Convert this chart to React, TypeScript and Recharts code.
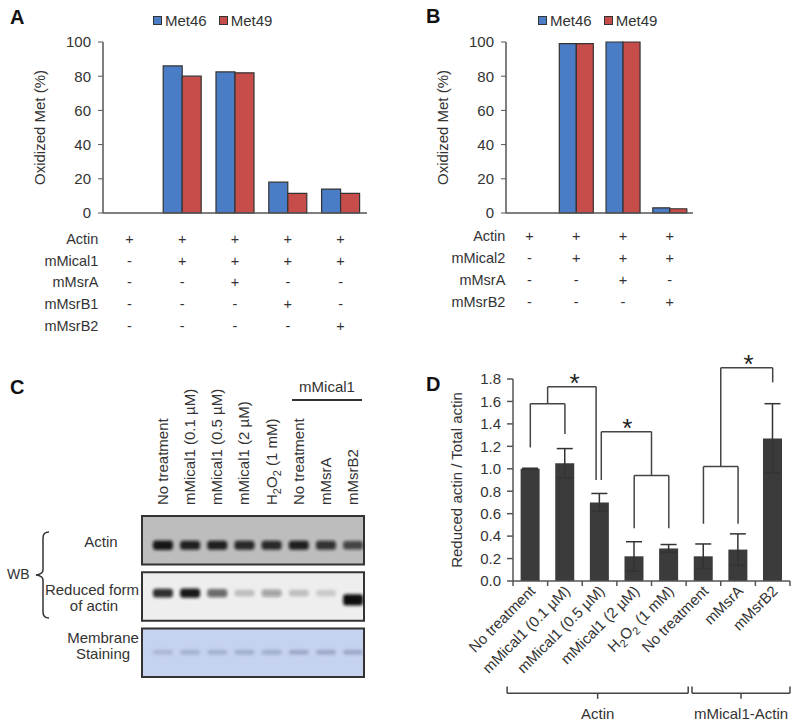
import React from 'react'
import {
  Bar, BarChart, ErrorBar, Label, Legend, ReferenceArea, ReferenceDot, ReferenceLine,
  Scatter, ScatterChart, XAxis, YAxis,
} from 'recharts'

const FONT = '"Liberation Sans", Arial, Helvetica, sans-serif'
const BLUE = '#4a7dc6'
const RED = '#c74d4b'
const INK = '#333'

// ---- panel A ----
const conditionsA = ['a1', 'a2', 'a3', 'a4', 'a5']
const met46A = [0, 86, 82.5, 18, 14]
const met49A = [0, 80, 82, 11.5, 11.5]
const reagentsA = ['Actin', 'mMical1', 'mMsrA', 'mMsrB1', 'mMsrB2']
const signsA = [
  ['+', '+', '+', '+', '+'],
  ['-', '+', '+', '+', '+'],
  ['-', '-', '+', '-', '-'],
  ['-', '-', '-', '+', '-'],
  ['-', '-', '-', '-', '+'],
]

// ---- panel B ----
const conditionsB = ['b1', 'b2', 'b3', 'b4']
const met46B = [0, 99, 100, 3]
const met49B = [0, 99, 100, 2.5]
const reagentsB = ['Actin', 'mMical2', 'mMsrA', 'mMsrB2']
const signsB = [
  ['+', '+', '+', '+'],
  ['-', '+', '+', '+'],
  ['-', '-', '+', '-'],
  ['-', '-', '-', '+'],
]
const yTicksAB = [0, 20, 40, 60, 80, 100]

// ---- panel C (blot) ----
const lanesC = ['No treatment', 'mMical1 (0.1 µM)', 'mMical1 (0.5 µM)', 'mMical1 (2 µM)', 'H2O2 (1 mM)', 'No treatment', 'mMsrA', 'mMsrB2']
const actinBand = [0.95, 0.9, 0.9, 0.85, 0.85, 0.9, 0.8, 0.7]
const reducedBand = [0.85, 0.95, 0.6, 0.2, 0.35, 0.2, 0.15, 1.5]
const stainBand = [0.25, 0.3, 0.3, 0.32, 0.32, 0.38, 0.38, 0.38]

// ---- panel D ----
const labelsD = ['No treatment', 'mMical1 (0.1 µM)', 'mMical1 (0.5 µM)', 'mMical1 (2 µM)', 'H2O2 (1 mM)', 'No treatment', 'mMsrA', 'mMsrB2']
const ratioD = [1.0, 1.05, 0.7, 0.22, 0.29, 0.22, 0.28, 1.27]
const errD = [0.005, 0.13, 0.08, 0.13, 0.035, 0.11, 0.14, 0.31]
const yTicksD = [0, 0.2, 0.4, 0.6, 0.8, 1.0, 1.2, 1.4, 1.6, 1.8]
// significance brackets, x in bar-slot units, y in ratio units
const bracketsD = [
  { l: 0.5, r: 1.5, top: 1.58, lb: 1.19, rb: 1.31, star: null },
  { l: 1.0, r: 2.4, top: 1.73, lb: 1.58, rb: 0.9, star: 1.78 },
  { l: 3.5, r: 4.5, top: 0.94, lb: 0.47, rb: 0.47, star: null },
  { l: 2.55, r: 4.0, top: 1.33, lb: 0.9, rb: 0.94, star: 3.3 },
  { l: 5.5, r: 6.5, top: 1.02, lb: 0.51, rb: 0.51, star: null },
  { l: 6.0, r: 7.5, top: 1.9, lb: 1.02, rb: 1.77, star: 6.8 },
]
const groupsD = [
  { name: 'Actin', from: -0.17, to: 5.06 },
  { name: 'mMical1-Actin', from: 5.17, to: 8.0 },
]

const dataA = conditionsA.map((c, i) => ({ c, met46: met46A[i], met49: met49A[i] }))
const dataB = conditionsB.map((c, i) => ({ c, met46: met46B[i], met49: met49B[i] }))
const dataD = labelsD.map((name, i) => ({ k: `d${i}`, slot: i + 0.5, name, v: ratioD[i], e: errD[i] }))

function LegendBox({ payload }: any) {
  return (
    <div style={{ display: 'flex', gap: 12, fontSize: 15, height: 20, alignItems: 'center', fontFamily: FONT, color: '#333' }}>
      {(payload || []).map((p: any) => (
        <span key={p.value} style={{ display: 'flex', alignItems: 'center' }}>
          <span style={{ width: 7, height: 7, background: p.color, border: '1px solid #333', marginRight: 3 }} />
          {p.value}
        </span>
      ))}
    </div>
  )
}

function tableTick(reagents: string[], signs: string[][], first: number, step: number, labelDx: number) {
  return (props: any) => {
    const { x, y, index } = props
    return (
      <g fontSize={14.5} fill="#333" fontFamily={FONT}>
        {reagents.map((r, ri) => (
          <g key={r}>
            <text x={x} y={y + first + step * ri} textAnchor="middle">{signs[ri][index]}</text>
            {index === 0 && <text x={x + labelDx} y={y + first + step * ri} textAnchor="end">{r}</text>}
          </g>
        ))}
      </g>
    )
  }
}

const yLabel = (text: string, dx: number) => (p: any) => {
  const vb = p.viewBox
  const cx = vb.x + dx
  const cy = vb.y + vb.height / 2
  return (
    <text x={cx} y={cy} transform={`rotate(-90 ${cx} ${cy})`} textAnchor="middle" fontSize={15} fill="#333" fontFamily={FONT}>
      {text}
    </text>
  )
}

function OxChart({ data, legendLeft, yw, right, reagents, signs, first, step, labelDx }: any) {
  return (
    <BarChart width={400} height={340} data={data} margin={{ top: 22, right, bottom: 7, left: 0 }} barCategoryGap="14%" barGap={0}>
      <Legend verticalAlign="top" align="left" content={<LegendBox />} wrapperStyle={{ top: 10, left: legendLeft, width: 160 }} />
      <XAxis dataKey="c" height={120} interval={0} tickLine={false} tickSize={0} tickMargin={0} axisLine={{ stroke: '#555', strokeWidth: 1.5 }}
        tick={tableTick(reagents, signs, first, step, labelDx)} />
      <YAxis width={yw} domain={[0, 100]} ticks={yTicksAB} tickSize={5} tickMargin={7}
        axisLine={{ stroke: '#555', strokeWidth: 1.5 }} tickLine={{ stroke: '#555' }}
        tick={{ fontSize: 15, fill: '#333', fontFamily: FONT }}>
        <Label content={yLabel('Oxidized Met (%)', yw - 58)} />
      </YAxis>
      <Bar dataKey="met46" name="Met46" fill={BLUE} stroke={INK} strokeWidth={1.2} isAnimationActive={false} />
      <Bar dataKey="met49" name="Met49" fill={RED} stroke={INK} strokeWidth={1.2} isAnimationActive={false} />
    </BarChart>
  )
}

function BandShape(props: any) {
  const { cx, cy, payload } = props
  const a = payload.a as number
  const w = 20
  const h = payload.row === 2 ? 5 : 6 + 3.5 * a
  const color = payload.row === 2 ? '#55648c' : '#111'
  return (
    <rect x={cx - w / 2} y={cy - h / 2} width={w} height={h} rx={3} fill={color}
      fillOpacity={Math.min(1, a)} filter="url(#blotBlur)" />
  )
}

const rowsC = [
  { row: 0, pos: 0.52, vals: actinBand, bg: '#bdbdbd' },
  { row: 1, pos: 1.37, vals: reducedBand, bg: '#eeeeee' },
  { row: 2, pos: 2.42, vals: stainBand, bg: '#c6d3ee' },
]

function LaneTick(props: any) {
  const { x, y, payload } = props
  const name = lanesC[payload.value]
  const tx = x + 5
  const ty = y - 11
  return (
    <text transform={`translate(${tx},${ty}) rotate(-90)`} fontSize={15} fill="#333" fontFamily={FONT}>
      {name === 'H2O2 (1 mM)'
        ? <>H<tspan dy={4} fontSize={11}>2</tspan><tspan dy={-4}>O</tspan><tspan dy={4} fontSize={11}>2</tspan><tspan dy={-4}> (1 mM)</tspan></>
        : name}
    </text>
  )
}

function BlotChart() {
  return (
    <ScatterChart width={400} height={310} margin={{ top: 16, right: 36, bottom: 13, left: 142 }}>
      <XAxis xAxisId="lane" orientation="top" type="number" dataKey="lane" domain={[-0.77, 7.4]} allowDataOverflow ticks={[0, 1, 2, 3, 4, 5, 6, 7]}
        height={120} axisLine={false} tickLine={false} tickSize={0} tickMargin={0} interval={0} tick={<LaneTick />} />
      <YAxis type="number" dataKey="y" domain={[0, 2.86]} allowDataOverflow reversed hide />
      {rowsC.map((r) => (
        <ReferenceArea key={`box${r.row}`} xAxisId="lane" x1={-0.77} x2={7.4} y1={r.row} y2={r.row + 0.86}
          fill={r.bg} fillOpacity={1} stroke="#333" strokeWidth={2} ifOverflow="visible" />
      ))}
      {rowsC.map((r) => (
        <Scatter key={`row${r.row}`} xAxisId="lane" isAnimationActive={false} shape={BandShape}
          data={r.vals.map((a, i) => ({ lane: i, y: r.row === 1 && a > 1 ? r.pos + 0.12 : r.pos, a, row: r.row }))} />
      ))}
    </ScatterChart>
  )
}

function RatioTick(props: any) {
  const { x, y, payload, index } = props
  const name = labelsD[index] ?? payload.value
  const bw = 277 / 8
  const tx = x + 6
  const ty = y + 11
  return (
    <g>
      <line x1={x - bw / 2} x2={x - bw / 2} y1={y} y2={y + 5} stroke="#555" strokeWidth={1.5} />
      {index === labelsD.length - 1 && <line x1={x + bw / 2} x2={x + bw / 2} y1={y} y2={y + 5} stroke="#555" strokeWidth={1.5} />}
      <text transform={`translate(${tx},${ty}) rotate(-45)`} textAnchor="end" fontSize={15} fill="#333" fontFamily={FONT}>
        {name === 'H2O2 (1 mM)'
          ? <>H<tspan dy={4} fontSize={11}>2</tspan><tspan dy={-4}>O</tspan><tspan dy={4} fontSize={11}>2</tspan><tspan dy={-4}> (1 mM)</tspan></>
          : name}
      </text>
    </g>
  )
}

const starLabel = (p: any) => {
  const vb = p.viewBox
  return <text x={vb.x} y={vb.y + 5} textAnchor="middle" fontSize={26} fill="#222" fontFamily={FONT}>*</text>
}
const groupLabel = (text: string) => (p: any) => {
  const vb = p.viewBox
  return <text x={vb.x} y={vb.y} textAnchor="middle" fontSize={15} fill="#333" fontFamily={FONT}>{text}</text>
}

function RatioChart() {
  const seg = (key: string, x1: number, y1: number, x2: number, y2: number) => (
    <ReferenceLine key={key} xAxisId="n" segment={[{ x: x1, y: y1 }, { x: x2, y: y2 }]} stroke="#444" strokeWidth={1.5} ifOverflow="visible" />
  )
  return (
    <BarChart width={400} height={387} data={dataD} margin={{ top: 39, right: 10, bottom: 6, left: 0 }} barCategoryGap="22%">
      <XAxis dataKey="k" height={140} interval={0} tickLine={false} tickSize={0} tickMargin={0}
        axisLine={{ stroke: '#555', strokeWidth: 1.5 }} tick={<RatioTick />} />
      <XAxis xAxisId="n" dataKey="slot" type="number" domain={[0, 8]} allowDataOverflow hide />
      <YAxis width={113} domain={[0, 1.8]} ticks={yTicksD} tickFormatter={(v: number) => v.toFixed(1)} tickSize={6} tickMargin={6}
        axisLine={{ stroke: '#555', strokeWidth: 1.5 }} tickLine={{ stroke: '#555', strokeWidth: 1.5 }}
        tick={{ fontSize: 15, fill: '#333', fontFamily: FONT }}>
        <Label content={yLabel('Reduced actin / Total actin', 62)} />
      </YAxis>
      <Bar dataKey="v" fill="#3b3b3b" isAnimationActive={false}>
        <ErrorBar dataKey="e" width={8} stroke="#333" strokeWidth={1.5} />
      </Bar>
      {bracketsD.flatMap((b, i) => [
        seg(`l${i}`, b.l, b.lb, b.l, b.top),
        seg(`t${i}`, b.l, b.top, b.r, b.top),
        seg(`r${i}`, b.r, b.top, b.r, b.rb),
      ])}
      {bracketsD.filter((b) => b.star !== null).map((b, i) => (
        <ReferenceDot key={`s${i}`} xAxisId="n" x={b.star as number} y={b.top} r={0} fill="none" stroke="none" ifOverflow="visible" label={starLabel} />
      ))}
      {groupsD.flatMap((g, i) => {
        const mid = (g.from + g.to) / 2
        return [
          seg(`gh${i}`, g.from, -1.0, g.to, -1.0),
          seg(`gl${i}`, g.from, -1.0, g.from, -0.94),
          seg(`gr${i}`, g.to, -1.0, g.to, -0.94),
          seg(`gm${i}`, mid, -1.0, mid, -1.05),
          <ReferenceDot key={`gt${i}`} xAxisId="n" x={mid} y={-1.23} r={0} fill="none" stroke="none" ifOverflow="visible" label={groupLabel(g.name)} />,
        ]
      })}
    </BarChart>
  )
}

export default function App() {
  return (
    <div style={{ position: 'absolute', left: 0, top: 0, width: 800, height: 727, background: '#fff', fontFamily: FONT }}>
      <svg width={800} height={727} style={{ position: 'absolute', left: 0, top: 0 }} fontFamily={FONT}>
        <defs>
          <filter id="blotBlur" x="-50%" y="-100%" width="200%" height="300%">
            <feGaussianBlur stdDeviation="1.6" />
          </filter>
        </defs>
        <g fontSize={20} fontWeight="bold" fill="#111">
          <text x={10} y={24}>A</text>
          <text x={426} y={23}>B</text>
          <text x={10} y={394}>C</text>
          <text x={426} y={391}>D</text>
        </g>
        <g fontSize={15} fill="#333">
          <text x={327} y={392} textAnchor="middle">mMical1</text>
          <text x={101} y={547} textAnchor="middle">Actin</text>
          <text x={92} y={595} textAnchor="middle">Reduced form</text>
          <text x={94} y={611} textAnchor="middle">of actin</text>
          <text x={103} y={643} textAnchor="middle">Membrane</text>
          <text x={103} y={659} textAnchor="middle">Staining</text>
          <text x={7} y={579} fontSize={14}>WB</text>
        </g>
        <line x1={292} x2={362} y1={400} y2={400} stroke="#333" strokeWidth={2} />
        <path d="M49,532 Q43,532 43,538 L43,570 Q43,574 36,575 Q43,576 43,580 L43,612 Q43,618 49,618" fill="none" stroke="#333" strokeWidth={1.5} />
      </svg>
      <div style={{ position: 'absolute', left: 0, top: 0 }}>
        <OxChart data={dataA} legendLeft={153} yw={103} right={33} reagents={reagentsA} signs={signsA} first={31} step={21.7} labelDx={-31} />
      </div>
      <div style={{ position: 'absolute', left: 400, top: 0 }}>
        <OxChart data={dataB} legendLeft={138} yw={106} right={107} reagents={reagentsB} signs={signsB} first={28} step={22} labelDx={-24} />
      </div>
      <div style={{ position: 'absolute', left: 0, top: 380 }}>
        <BlotChart />
      </div>
      <div style={{ position: 'absolute', left: 400, top: 340 }}>
        <RatioChart />
      </div>
    </div>
  )
}
